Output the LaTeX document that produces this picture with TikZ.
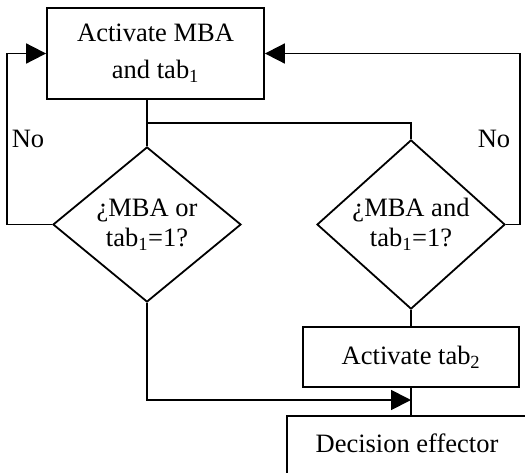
\documentclass[tikz,border=0pt]{standalone}
\usepackage{fontspec}
\setmainfont{Liberation Serif}
\usetikzlibrary{shapes.geometric,arrows.meta}
\begin{document}
\begin{tikzpicture}[x=1pt,y=-1pt, line width=1.8pt,
  box/.style={draw, rectangle, inner sep=0pt, align=center, font=\fontsize{26.5}{37}\selectfont},
  dec/.style={draw, diamond, inner sep=0pt, minimum width=188pt, minimum height=155pt, align=center, font=\fontsize{26.5}{30}\selectfont},
  lbl/.style={font=\fontsize{26.5}{30}\selectfont, inner sep=0pt},
  arr/.style={-{Triangle[length=20pt,width=20pt]}}]
\useasboundingbox (0,0) rectangle (525,472);
\clip (0,0) rectangle (525,472);
\node[box, minimum width=217pt, minimum height=91pt] (mba) at (155.5,53.5) {Activate MBA\\and tab\textsubscript{1}};
\node[dec] (d1) at (147,224.5) {¿MBA or\\tab\textsubscript{1}=1?};
\node[dec] (d2) at (411,224.5) {¿MBA and\\tab\textsubscript{1}=1?};
\node[box, minimum width=216pt, minimum height=60pt] (t2) at (411,357) {Activate tab\textsubscript{2}};
\node[box, anchor=north, minimum width=240pt, minimum height=62pt, text depth=7pt] (de) at (407,415) {Decision effector};
\node[lbl] (no1) at (28,139) {No};
\node[lbl] (no2) at (494,139) {No};
\coordinate (j) at (147,123);
\coordinate (lw) at (7,224.5);
\coordinate (rw) at (520,224.5);
\coordinate (m) at (t2.south |- 0,400);
\draw (mba.south -| d1.north) -- (d1.north);
\draw (j) -| (d2.north);
\draw[arr] (d1.west) -- (lw) |- (mba.west);
\draw[arr] (d2.east) -- (rw) |- (mba.east);
\draw (d2.south) -- (t2.north);
\draw (t2.south) -- (t2.south |- de.north);
\draw[arr] (d1.south) |- (m);
\end{tikzpicture}
\end{document}
